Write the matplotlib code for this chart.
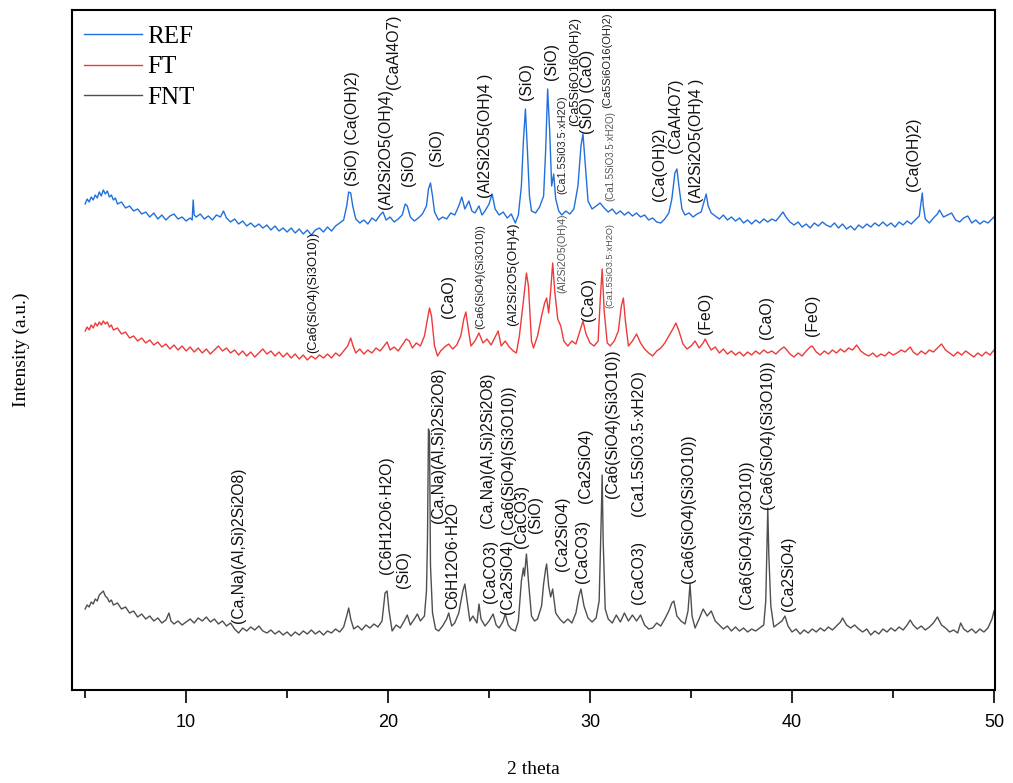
import matplotlib
matplotlib.use("Agg")
import matplotlib.pyplot as plt
from matplotlib.ticker import MultipleLocator

# ---------------- data (2theta, intensity a.u.) ----------------
ref_pattern = [
    (5.0, 37), (5.1, 42), (5.2, 39), (5.3, 44), (5.4, 41), (5.5, 46), (5.6, 43), (5.7, 49), (5.8, 45), (5.9, 51),
    (6.0, 47), (6.1, 50), (6.2, 44), (6.3, 46), (6.4, 41), (6.5, 43), (6.6, 37), (6.8, 39), (7.0, 33), (7.2, 35),
    (7.4, 30), (7.6, 32), (7.8, 27), (8.0, 29), (8.2, 24), (8.4, 28), (8.6, 22), (8.8, 26), (9.0, 21), (9.2, 25),
    (9.4, 27), (9.6, 22), (9.8, 24), (10.0, 20), (10.2, 23), (10.3, 21), (10.35, 41), (10.4, 26), (10.5, 24),
    (10.7, 27), (10.9, 22), (11.1, 25), (11.3, 21), (11.5, 26), (11.7, 24), (11.85, 30), (12.0, 23), (12.2, 19),
    (12.4, 22), (12.6, 17), (12.8, 20), (13.0, 15), (13.2, 18), (13.4, 14), (13.6, 17), (13.8, 13), (14.0, 16),
    (14.2, 11), (14.4, 15), (14.6, 10), (14.8, 13), (15.0, 9), (15.2, 13), (15.4, 8), (15.6, 12), (15.8, 7),
    (16.0, 11), (16.2, 6), (16.4, 11), (16.6, 13), (16.8, 9), (17.0, 14), (17.2, 10), (17.4, 15), (17.6, 18),
    (17.8, 21), (17.95, 35), (18.05, 49), (18.15, 48), (18.25, 35), (18.4, 22), (18.6, 18), (18.8, 21), (19.0, 17),
    (19.2, 23), (19.4, 20), (19.6, 26), (19.75, 29), (19.9, 21), (20.1, 24), (20.3, 19), (20.5, 22), (20.7, 26),
    (20.85, 37), (20.95, 35), (21.1, 24), (21.3, 20), (21.5, 23), (21.7, 27), (21.9, 35), (22.0, 52), (22.1, 58),
    (22.2, 45), (22.3, 29), (22.5, 21), (22.7, 24), (22.9, 22), (23.1, 28), (23.3, 26), (23.5, 35), (23.65, 44),
    (23.8, 32), (24.0, 40), (24.15, 30), (24.3, 28), (24.5, 35), (24.65, 26), (24.8, 30), (25.0, 37), (25.15, 47),
    (25.3, 32), (25.5, 26), (25.7, 29), (25.9, 23), (26.1, 27), (26.3, 18), (26.45, 26), (26.6, 55), (26.7, 100),
    (26.8, 132), (26.9, 90), (27.0, 45), (27.1, 30), (27.3, 28), (27.5, 34), (27.7, 45), (27.8, 90), (27.9, 152),
    (28.0, 110), (28.1, 55), (28.2, 67), (28.3, 42), (28.45, 30), (28.6, 26), (28.8, 30), (29.0, 27), (29.2, 32),
    (29.4, 55), (29.55, 95), (29.65, 107), (29.75, 80), (29.9, 40), (30.1, 32), (30.3, 35), (30.5, 38), (30.7, 33),
    (30.9, 29), (31.1, 32), (31.3, 27), (31.5, 30), (31.7, 26), (31.9, 29), (32.1, 25), (32.3, 28), (32.5, 24),
    (32.7, 26), (32.9, 21), (33.1, 23), (33.3, 19), (33.5, 18), (33.7, 22), (33.9, 28), (34.05, 42), (34.2, 68),
    (34.3, 72), (34.4, 55), (34.55, 32), (34.7, 26), (34.9, 28), (35.1, 24), (35.3, 27), (35.5, 29), (35.65, 40),
    (35.75, 47), (35.85, 35), (36.0, 28), (36.2, 25), (36.4, 22), (36.6, 26), (36.8, 21), (37.0, 24), (37.2, 20),
    (37.4, 23), (37.6, 18), (37.8, 21), (38.0, 17), (38.2, 21), (38.4, 18), (38.6, 22), (38.8, 19), (39.0, 22),
    (39.2, 20), (39.4, 25), (39.55, 29), (39.7, 24), (39.9, 19), (40.1, 16), (40.3, 19), (40.5, 14), (40.7, 17),
    (40.9, 13), (41.1, 18), (41.3, 15), (41.5, 19), (41.7, 16), (41.9, 14), (42.1, 18), (42.3, 13), (42.5, 17),
    (42.7, 12), (42.9, 15), (43.1, 11), (43.3, 16), (43.5, 13), (43.7, 17), (43.9, 14), (44.1, 18), (44.3, 15),
    (44.5, 19), (44.7, 15), (44.9, 18), (45.1, 14), (45.3, 19), (45.5, 16), (45.7, 20), (45.9, 17), (46.1, 21),
    (46.3, 25), (46.4, 40), (46.45, 48), (46.5, 35), (46.6, 22), (46.8, 18), (47.0, 23), (47.2, 27), (47.3, 31),
    (47.5, 24), (47.7, 26), (47.9, 28), (48.1, 21), (48.3, 19), (48.5, 23), (48.7, 25), (48.9, 18), (49.1, 21),
    (49.3, 17), (49.5, 20), (49.7, 18), (49.9, 22), (50.0, 24),
]

ft_pattern = [
    (5.0, 35), (5.1, 39), (5.2, 36), (5.3, 41), (5.4, 38), (5.5, 43), (5.6, 40), (5.7, 44), (5.8, 41), (5.9, 45),
    (6.0, 42), (6.1, 44), (6.2, 39), (6.3, 41), (6.4, 36), (6.6, 38), (6.8, 32), (7.0, 34), (7.2, 28), (7.4, 30),
    (7.6, 25), (7.8, 28), (8.0, 23), (8.2, 26), (8.4, 21), (8.6, 24), (8.8, 19), (9.0, 22), (9.2, 17), (9.4, 21),
    (9.6, 16), (9.8, 20), (10.0, 15), (10.2, 19), (10.4, 14), (10.6, 18), (10.8, 13), (11.0, 17), (11.2, 12),
    (11.4, 16), (11.6, 20), (11.8, 15), (12.0, 18), (12.2, 13), (12.4, 16), (12.6, 11), (12.8, 15), (13.0, 10),
    (13.2, 14), (13.4, 9), (13.6, 13), (13.8, 17), (14.0, 12), (14.2, 15), (14.4, 10), (14.6, 14), (14.8, 9),
    (15.0, 13), (15.2, 8), (15.4, 12), (15.6, 7), (15.8, 11), (16.0, 6), (16.2, 10), (16.4, 7), (16.6, 11),
    (16.8, 8), (17.0, 12), (17.2, 8), (17.4, 13), (17.6, 10), (17.8, 15), (18.0, 20), (18.15, 28), (18.25, 21),
    (18.4, 13), (18.6, 17), (18.8, 12), (19.0, 16), (19.2, 13), (19.4, 18), (19.6, 15), (19.8, 20), (19.95, 24),
    (20.1, 16), (20.3, 19), (20.5, 15), (20.7, 21), (20.9, 27), (21.05, 25), (21.2, 18), (21.4, 23), (21.6, 20),
    (21.8, 30), (21.95, 47), (22.05, 58), (22.15, 50), (22.3, 20), (22.45, 10), (22.6, 15), (22.8, 19), (23.0, 22),
    (23.2, 17), (23.4, 21), (23.6, 30), (23.75, 47), (23.85, 54), (23.95, 40), (24.1, 20), (24.3, 25), (24.5, 33),
    (24.7, 23), (24.9, 27), (25.1, 21), (25.3, 29), (25.45, 35), (25.6, 20), (25.8, 25), (26.0, 19), (26.2, 15),
    (26.35, 13), (26.5, 30), (26.7, 65), (26.85, 93), (26.95, 80), (27.1, 25), (27.2, 18), (27.4, 30), (27.6, 50),
    (27.75, 63), (27.85, 68), (27.95, 53), (28.05, 75), (28.15, 103), (28.25, 75), (28.4, 47), (28.55, 40),
    (28.7, 25), (28.9, 20), (29.1, 25), (29.3, 22), (29.5, 35), (29.65, 45), (29.8, 32), (30.0, 23), (30.2, 20),
    (30.4, 25), (30.5, 65), (30.6, 97), (30.7, 55), (30.85, 23), (31.0, 20), (31.2, 25), (31.4, 35), (31.55, 60),
    (31.65, 68), (31.75, 45), (31.9, 20), (32.1, 25), (32.3, 32), (32.5, 23), (32.7, 17), (32.9, 13), (33.1, 10),
    (33.3, 15), (33.5, 18), (33.7, 23), (33.9, 30), (34.1, 37), (34.25, 43), (34.4, 35), (34.6, 22), (34.8, 17),
    (35.0, 20), (35.2, 25), (35.4, 18), (35.6, 23), (35.7, 27), (35.85, 21), (36.0, 16), (36.2, 19), (36.4, 13),
    (36.6, 17), (36.8, 12), (37.0, 15), (37.2, 11), (37.4, 14), (37.6, 10), (37.8, 14), (38.0, 11), (38.2, 15),
    (38.4, 12), (38.6, 16), (38.8, 13), (39.0, 15), (39.2, 12), (39.4, 16), (39.6, 19), (39.7, 17), (39.9, 12),
    (40.1, 9), (40.3, 13), (40.5, 10), (40.7, 15), (40.9, 19), (41.0, 20), (41.2, 14), (41.4, 11), (41.6, 15),
    (41.8, 12), (42.0, 16), (42.2, 13), (42.4, 17), (42.6, 14), (42.8, 18), (43.0, 16), (43.2, 21), (43.4, 15),
    (43.6, 12), (43.8, 10), (44.0, 13), (44.2, 9), (44.4, 12), (44.6, 10), (44.8, 14), (45.0, 11), (45.2, 13),
    (45.4, 16), (45.6, 14), (45.85, 19), (46.0, 14), (46.2, 11), (46.4, 15), (46.6, 12), (46.8, 16), (47.0, 14),
    (47.2, 18), (47.4, 22), (47.6, 16), (47.8, 13), (48.0, 10), (48.2, 14), (48.4, 11), (48.6, 15), (48.8, 12),
    (49.0, 9), (49.2, 13), (49.4, 10), (49.6, 14), (49.8, 11), (50.0, 16),
]

fnt_pattern = [
    (5.0, 32), (5.1, 36), (5.2, 34), (5.3, 39), (5.4, 37), (5.5, 42), (5.6, 40), (5.7, 46), (5.8, 48), (5.9, 50),
    (6.0, 45), (6.1, 43), (6.2, 39), (6.3, 41), (6.4, 36), (6.6, 38), (6.8, 32), (7.0, 34), (7.2, 28), (7.4, 30),
    (7.6, 24), (7.8, 27), (8.0, 22), (8.2, 25), (8.4, 20), (8.6, 23), (8.8, 18), (9.0, 21), (9.15, 28), (9.25, 20),
    (9.4, 17), (9.6, 20), (9.8, 16), (10.0, 19), (10.2, 22), (10.4, 18), (10.6, 23), (10.8, 20), (11.0, 24),
    (11.2, 19), (11.4, 22), (11.6, 17), (11.8, 20), (12.0, 15), (12.2, 18), (12.4, 12), (12.6, 8), (12.8, 13),
    (13.0, 10), (13.2, 14), (13.4, 11), (13.6, 15), (13.8, 10), (14.0, 8), (14.2, 11), (14.4, 7), (14.6, 10),
    (14.8, 6), (15.0, 9), (15.2, 5), (15.4, 9), (15.6, 6), (15.8, 10), (16.0, 7), (16.2, 11), (16.4, 7), (16.6, 10),
    (16.8, 6), (17.0, 10), (17.2, 8), (17.4, 12), (17.6, 9), (17.8, 14), (17.95, 25), (18.05, 33), (18.15, 22),
    (18.3, 12), (18.5, 15), (18.7, 11), (18.9, 16), (19.1, 13), (19.3, 17), (19.5, 14), (19.7, 20), (19.85, 48),
    (19.95, 50), (20.05, 30), (20.2, 10), (20.4, 16), (20.6, 13), (20.8, 20), (20.95, 26), (21.1, 16), (21.3, 22),
    (21.45, 27), (21.6, 20), (21.8, 25), (21.9, 50), (21.95, 100), (22.0, 212), (22.05, 208), (22.1, 75),
    (22.2, 28), (22.35, 12), (22.5, 10), (22.7, 15), (22.9, 22), (23.0, 28), (23.15, 15), (23.3, 18), (23.5, 28),
    (23.7, 50), (23.8, 57), (23.9, 42), (24.05, 20), (24.2, 25), (24.4, 18), (24.5, 37), (24.6, 22), (24.8, 15),
    (25.0, 20), (25.2, 27), (25.35, 16), (25.5, 13), (25.7, 20), (25.8, 27), (25.95, 16), (26.1, 12), (26.3, 10),
    (26.45, 20), (26.6, 60), (26.7, 73), (26.75, 65), (26.85, 87), (26.95, 60), (27.1, 25), (27.25, 20),
    (27.4, 22), (27.6, 35), (27.7, 57), (27.8, 72), (27.85, 77), (27.95, 55), (28.05, 44), (28.15, 52), (28.3, 28),
    (28.5, 22), (28.7, 18), (28.9, 22), (29.1, 18), (29.3, 28), (29.45, 45), (29.55, 52), (29.7, 35), (29.9, 23),
    (30.1, 19), (30.3, 23), (30.45, 40), (30.55, 120), (30.6, 166), (30.65, 100), (30.75, 32), (30.9, 22),
    (31.1, 18), (31.3, 26), (31.5, 19), (31.7, 28), (31.9, 20), (32.1, 26), (32.3, 20), (32.5, 26), (32.7, 16),
    (32.9, 12), (33.1, 13), (33.3, 18), (33.5, 15), (33.7, 22), (33.9, 30), (34.05, 38), (34.15, 40), (34.3, 25),
    (34.5, 20), (34.7, 17), (34.85, 30), (34.95, 57), (35.05, 25), (35.2, 13), (35.4, 22), (35.6, 32), (35.8, 25),
    (36.0, 30), (36.2, 20), (36.4, 16), (36.6, 12), (36.8, 15), (37.0, 10), (37.2, 14), (37.4, 10), (37.6, 13),
    (37.8, 9), (38.0, 12), (38.2, 10), (38.4, 13), (38.6, 16), (38.7, 40), (38.8, 133), (38.85, 87), (38.95, 35),
    (39.1, 14), (39.3, 17), (39.5, 20), (39.65, 25), (39.8, 15), (40.0, 9), (40.2, 12), (40.4, 7), (40.6, 11),
    (40.8, 8), (41.0, 12), (41.2, 9), (41.4, 13), (41.6, 10), (41.8, 14), (42.0, 11), (42.2, 15), (42.4, 19),
    (42.5, 23), (42.7, 16), (42.9, 13), (43.1, 16), (43.3, 12), (43.5, 9), (43.7, 12), (43.9, 6), (44.1, 10),
    (44.3, 7), (44.5, 12), (44.7, 9), (44.9, 13), (45.1, 10), (45.3, 14), (45.5, 11), (45.7, 16), (45.85, 21),
    (46.0, 16), (46.2, 12), (46.4, 15), (46.6, 11), (46.8, 14), (47.0, 18), (47.2, 24), (47.4, 16), (47.6, 13),
    (47.8, 9), (48.0, 11), (48.2, 8), (48.35, 18), (48.5, 12), (48.7, 9), (48.9, 12), (49.1, 8), (49.3, 12),
    (49.5, 9), (49.7, 13), (49.9, 22), (50.0, 30),
]

series_names = ["REF", "FT", "FNT"]
x_ticks = [10, 20, 30, 40, 50]

# phase labels: (text, 2theta, height, fontsize, colour)
ref_labels = [
    ("(SiO) (Ca(OH)2)", 18.22, 504, 11.3, "#111111"),
    ("(Al2Si2O5(OH)4)", 19.85, 481, 11.3, "#111111"),
    ("(CaAl4O7)", 20.25, 601, 11.3, "#111111"),
    ("(SiO)", 20.99, 504, 11.3, "#111111"),
    ("(SiO)", 22.38, 524, 11.3, "#111111"),
    ("(Al2Si2O5(OH)4 )", 24.80, 492, 11.3, "#111111"),
    ("(SiO)", 26.83, 590, 11.3, "#111111"),
    ("(SiO)", 28.07, 610, 11.3, "#111111"),
    ("(Ca1.5Si03.5·xH2O)", 28.61, 496, 7.8, "#222222"),
    ("(Ca5Si6O16(OH)2)", 29.26, 564, 9.2, "#111111"),
    ("(SiO) (CaO)", 29.85, 556, 11.3, "#111111"),
    ("(Ca5Si6O16(OH)2)", 30.84, 582, 8.0, "#222222"),
    ("(Ca1.5SiO3.5·xH2O)", 30.99, 489, 7.0, "#555555"),
    ("(Ca(OH)2)", 33.42, 489, 11.3, "#111111"),
    ("(CaAl4O7)", 34.21, 537, 11.3, "#111111"),
    ("(Al2Si2O5(OH)4 )", 35.25, 487, 11.3, "#111111"),
    ("(Ca(OH)2)", 45.99, 499, 11.3, "#111111"),
]
ft_labels = [
    ("(Ca6(SiO4)(Si3O10))", 16.29, 337, 9.3, "#111111"),
    ("(CaO)", 22.97, 372, 11.3, "#111111"),
    ("(Ca6(SiO4)(Si3O10))", 24.55, 361, 8.0, "#222222"),
    ("(Al2Si2O5(OH)4)", 26.19, 364, 9.7, "#111111"),
    ("(Al2Si2O5(OH)4)", 28.61, 397, 7.5, "#555555"),
    ("(CaO)", 29.90, 369, 11.3, "#111111"),
    ("(Ca1.5SiO3.5·xH2O)", 30.99, 382, 6.6, "#555555"),
    ("(FeO)", 35.74, 356, 11.3, "#111111"),
    ("(CaO)", 38.76, 351, 11.3, "#111111"),
    ("(FeO)", 40.99, 354, 11.3, "#111111"),
]
fnt_labels = [
    ("(Ca,Na)(Al,Si)2Si2O8)", 12.57, 67, 11.3, "#111111"),
    ("(C6H12O6·H2O)", 19.90, 116, 11.3, "#111111"),
    ("(SiO)", 20.74, 102, 11.3, "#111111"),
    ("(Ca,Na)(Al,Si)2Si2O8)", 22.52, 167, 11.3, "#111111"),
    ("C6H12O6·H2O", 23.22, 81, 11.3, "#111111"),
    ("(CaCO3)", 25.05, 87, 11.3, "#111111"),
    ("(Ca,Na)(Al,Si)2Si2O8)", 24.90, 162, 11.3, "#111111"),
    ("(Ca2SiO4)", 25.89, 76, 11.3, "#111111"),
    ("(Ca6(SiO4)(Si3O10))", 25.94, 156, 11.3, "#111111"),
    ("(CaCO3)", 26.62, 142, 11.3, "#111111"),
    ("(SiO)", 27.32, 157, 11.3, "#111111"),
    ("(Ca2SiO4)", 28.66, 119, 11.3, "#111111"),
    ("(CaCO3)", 29.65, 107, 11.3, "#111111"),
    ("(Ca2SiO4)", 29.75, 187, 11.3, "#111111"),
    ("(Ca6(SiO4)(Si3O10))", 31.09, 192, 11.3, "#111111"),
    ("(CaCO3)", 32.38, 86, 11.3, "#111111"),
    ("(Ca1.5SiO3.5·xH2O)", 32.38, 174, 11.3, "#111111"),
    ("(Ca6(SiO4)(Si3O10))", 34.85, 107, 11.3, "#111111"),
    ("(Ca6(SiO4)(Si3O10))", 37.77, 81, 11.3, "#111111"),
    ("(Ca6(SiO4)(Si3O10))", 38.81, 181, 11.3, "#111111"),
    ("(Ca2SiO4)", 39.85, 79, 11.3, "#111111"),
]

# ---------------- styling ----------------
colors = {"REF": "#2170db", "FT": "#ee3a3a", "FNT": "#4f4f4f"}
offsets = {"REF": 449, "FT": 324, "FNT": 49}
patterns = {"REF": ref_pattern, "FT": ft_pattern, "FNT": fnt_pattern}

SANS = ["Liberation Sans", "DejaVu Sans"]
SERIF = ["Liberation Serif", "DejaVu Serif"]

fig = plt.figure(figsize=(10.13, 7.83), dpi=100)
ax = fig.add_axes([72 / 1013, 93 / 783, 923 / 1013, 680 / 783])

for name in series_names:
    pts = patterns[name]
    xs = [p[0] for p in pts]
    ys = [p[1] + offsets[name] for p in pts]
    ax.plot(xs, ys, color=colors[name], lw=1.0, label=name)

for labels in (ref_labels, ft_labels, fnt_labels):
    for text, x, y, fs, col in labels:
        ax.text(x, y, text, rotation=90, ha="center", va="bottom",
                fontsize=fs, color=col, family=SANS)

ax.set_xlim(4.35, 50.05)
ax.set_ylim(0, 680)
ax.set_xticks(x_ticks)
ax.xaxis.set_minor_locator(MultipleLocator(5))
ax.tick_params(axis="x", which="major", direction="out", length=9, width=1.2, pad=8)
ax.tick_params(axis="x", which="minor", direction="out", length=6, width=1.2)
ax.set_yticks([])
for lab in ax.get_xticklabels():
    lab.set_family(SANS)
    lab.set_fontsize(13)
for sp in ax.spines.values():
    sp.set_linewidth(1.5)

ax.set_xlabel("2 theta", family=SERIF, fontsize=14, labelpad=22)
ax.set_ylabel("Intensity (a.u.)", family=SERIF, fontsize=14, labelpad=30)

leg = ax.legend(loc="upper left", bbox_to_anchor=(0.008, 0.985), frameon=False,
                prop={"family": SERIF, "size": 18}, handlelength=2.3,
                handletextpad=0.2, labelspacing=0.33, borderpad=0.2,
                borderaxespad=0)
for line in leg.get_lines():
    line.set_linewidth(1.0)

fig.savefig("out.png", dpi=100)
